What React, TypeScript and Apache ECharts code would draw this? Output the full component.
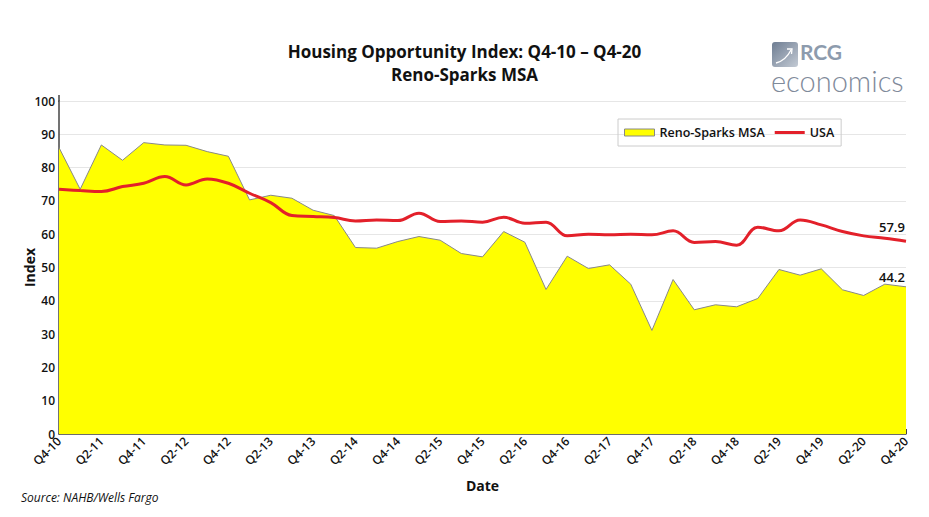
import React, { useEffect, useRef } from "react";
import * as echarts from "echarts";

const quarters = [
  "Q4-10","Q1-11","Q2-11","Q3-11","Q4-11","Q1-12","Q2-12","Q3-12","Q4-12",
  "Q1-13","Q2-13","Q3-13","Q4-13","Q1-14","Q2-14","Q3-14","Q4-14",
  "Q1-15","Q2-15","Q3-15","Q4-15","Q1-16","Q2-16","Q3-16","Q4-16",
  "Q1-17","Q2-17","Q3-17","Q4-17","Q1-18","Q2-18","Q3-18","Q4-18",
  "Q1-19","Q2-19","Q3-19","Q4-19","Q1-20","Q2-20","Q3-20","Q4-20",
];

const renoSparks = [
  86.0, 73.5, 86.8, 82.2, 87.5, 86.8, 86.7, 84.8, 83.4,
  70.3, 71.7, 70.8, 67.2, 65.6, 56.0, 55.8, 57.8,
  59.3, 58.2, 54.2, 53.2, 60.8, 57.6, 43.4, 53.4,
  49.7, 50.8, 45.0, 31.1, 46.4, 37.3, 38.8, 38.2,
  40.7, 49.4, 47.7, 49.6, 43.3, 41.6, 45.0, 44.2,
];

const usa = [
  73.5, 73.1, 72.8, 74.3, 75.3, 77.3, 74.8, 76.6, 75.3,
  72.3, 69.5, 65.6, 65.3, 65.0, 64.0, 64.3, 64.1,
  66.3, 63.8, 64.0, 63.6, 65.1, 63.3, 63.6, 59.5,
  60.0, 59.8, 60.0, 59.8, 61.0, 57.5, 57.8, 56.7,
  62.1, 61.0, 64.3, 62.8, 60.8, 59.5, 58.8, 57.9,
];

const FONT = "'Open Sans', 'Noto Sans', sans-serif";
const LOGO_FONT = "Lato, 'Open Sans', sans-serif";
const DARK = "#111111";

export default function App() {
  const ref = useRef<HTMLDivElement>(null);

  useEffect(() => {
    if (!ref.current) return;
    const chart = echarts.init(ref.current, null, { renderer: "svg" });

    const endLabel = (arr: number[], offset: number[]) => ({
      show: true,
      formatter: () => arr[arr.length - 1].toFixed(1),
      offset,
      fontFamily: FONT,
      fontSize: 13,
      fontWeight: 600,
      color: DARK,
    });

    chart.setOption({
      animation: false,
      backgroundColor: "#ffffff",
      textStyle: { fontFamily: FONT },
      title: {
        text: "Housing Opportunity Index: Q4-10 – Q4-20\nReno-Sparks MSA",
        left: "center",
        top: 35,
        textStyle: {
          fontFamily: FONT,
          fontSize: 17,
          fontWeight: "bold",
          color: DARK,
          lineHeight: 23,
        },
      },
      legend: {
        left: 618,
        top: 119,
        padding: [7, 7, 7, 6],
        borderColor: "#cccccc",
        borderWidth: 1,
        itemWidth: 30,
        itemHeight: 7,
        itemGap: 10,
        textStyle: { fontFamily: FONT, fontSize: 12.5, fontWeight: 600, color: DARK },
        data: [
          {
            name: "Reno-Sparks MSA",
            icon: "rect",
            itemStyle: { color: "#ffff00", borderColor: "#888888", borderWidth: 1 },
          },
          {
            name: "USA",
            icon: "path://M0,0L30,0L30,3L0,3Z",
            itemStyle: { color: "#e3202a", borderWidth: 0 },
          },
        ],
      },
      grid: { left: 59, right: 23, top: 101, bottom: 83, containLabel: false },
      xAxis: {
        type: "category",
        data: quarters,
        boundaryGap: false,
        name: "Date",
        nameLocation: "middle",
        nameGap: 44,
        nameTextStyle: { fontFamily: FONT, fontSize: 14, fontWeight: "bold", color: DARK },
        axisLine: { lineStyle: { color: "#444444", width: 1.5 } },
        axisTick: { show: true, inside: true, length: 5, interval: 1, lineStyle: { color: "#444444" } },
        axisLabel: {
          interval: 1,
          rotate: 45,
          fontFamily: FONT,
          fontSize: 12,
          fontWeight: 600,
          color: DARK,
          margin: 5,
        },
        splitLine: { show: false },
      },
      yAxis: {
        type: "value",
        min: 0,
        max: 100,
        interval: 10,
        name: "Index",
        nameLocation: "middle",
        nameGap: 23,
        nameMoveOverlap: false,
        nameTextStyle: { fontFamily: FONT, fontSize: 14, fontWeight: "bold", color: DARK },
        axisLine: { show: true, lineStyle: { color: "#444444", width: 1.5 } },
        axisTick: { show: false },
        axisLabel: { fontFamily: FONT, fontSize: 12, fontWeight: 600, color: DARK, margin: 4 },
        splitLine: { show: true, lineStyle: { color: "#e6e6e6", width: 1 } },
      },
      series: [
        {
          name: "Reno-Sparks MSA",
          type: "line",
          data: renoSparks,
          symbol: "none",
          lineStyle: { color: "#888888", width: 1 },
          itemStyle: { color: "#ffff00" },
          areaStyle: { color: "#ffff00", opacity: 1 },
          endLabel: endLabel(renoSparks, [-35, -10]),
          z: 1,
        },
        {
          name: "USA",
          type: "line",
          data: usa,
          symbol: "none",
          smooth: 0.4,
          lineStyle: { color: "#e3202a", width: 3 },
          itemStyle: { color: "#e3202a" },
          endLabel: endLabel(usa, [-35, -14]),
          z: 3,
        },
      ],
      graphic: [
        {
          type: "line",
          shape: { x1: 59, y1: 95, x2: 59, y2: 102 },
          style: { stroke: "#444444", lineWidth: 1.5 },
        },
        {
          type: "text",
          left: 21,
          top: 491,
          style: {
            text: "Source: NAHB/Wells Fargo",
            font: `italic 12px ${FONT}`,
            fill: DARK,
          },
        },
        {
          type: "rect",
          shape: { x: 772, y: 42, width: 26, height: 25, r: 3 },
          style: {
            fill: new echarts.graphic.LinearGradient(0, 0, 1, 1, [
              { offset: 0, color: "#6e7d92" },
              { offset: 1, color: "#c3cad4" },
            ]),
          },
        },
        {
          type: "bezierCurve",
          shape: { x1: 776, y1: 63, x2: 791, y2: 50, cpx1: 784, cpy1: 61, cpx2: 788, cpy2: 56 },
          style: { stroke: "#ffffff", lineWidth: 1.3, fill: null },
        },
        {
          type: "polyline",
          shape: { points: [[787, 49], [792, 49], [791.5, 54]] },
          style: { stroke: "#ffffff", lineWidth: 1.3, fill: null },
        },
        {
          type: "text",
          x: 800,
          y: 51,
          style: {
            text: "RCG",
            fontFamily: LOGO_FONT,
            fontSize: 21,
            fontWeight: "bold",
            fill: "#8d9bad",
            verticalAlign: "middle",
            lineHeight: 16,
          },
        },
        {
          type: "text",
          x: 771,
          y: 80,
          style: {
            text: "economics",
            fontFamily: LOGO_FONT,
            fontSize: 29,
            fontWeight: 300,
            fill: "#7f8a9a",
            verticalAlign: "middle",
            lineHeight: 19,
          },
        },
      ],
    });

    return () => chart.dispose();
  }, []);

  return <div ref={ref} style={{ width: 929, height: 517, margin: -8 }} />;
}
